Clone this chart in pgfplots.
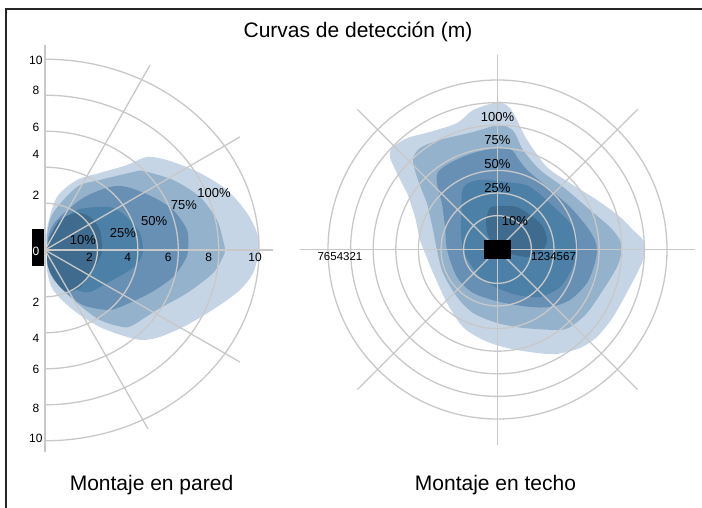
\documentclass[border=0pt]{standalone}
\usepackage{fontspec}
\setmainfont{Liberation Sans}
\usepackage{pgfplots}
\pgfplotsset{compat=1.18}

\definecolor{c100}{RGB}{198,213,229}
\definecolor{c75}{RGB}{148,178,204}
\definecolor{c50}{RGB}{104,143,180}
\definecolor{c25}{RGB}{76,128,167}
\definecolor{c10}{RGB}{62,107,142}
\definecolor{gridc}{RGB}{200,200,200}

\tikzset{
  gl/.style={draw=gridc, line width=1.3pt},
  al/.style={draw=gridc, line width=2pt},
  tk/.style={font=\fontsize{12}{14}\selectfont},
  pc/.style={font=\fontsize{13}{15}\selectfont},
}

\begin{document}
\begin{tikzpicture}[x=1pt,y=1pt]
\useasboundingbox (0,0) rectangle (702,508);
\draw[line width=1.2pt, black!85] (702,499) -- (6,499) -- (6,0);
\node[font=\fontsize{21}{24}\selectfont, anchor=base] at (358,470) {Curvas de detección (m)};
\node[font=\fontsize{21}{24}\selectfont, anchor=base] at (151.5,17) {Montaje en pared};
\node[font=\fontsize{21}{24}\selectfont, anchor=base] at (495.5,17) {Montaje en techo};

% montaje en pared
\begin{axis}[hide axis, clip=false, x=20.2pt, y=18pt,
  xmin=-1, xmax=12, ymin=-12, ymax=12,
  anchor=origin, at={(45pt,258pt)}]
\addplot[fill=c100, draw=none, smooth] coordinates {
 (0.1,0) (0.1,1.2) (0.59,2.94) (1.58,3.89) (2.72,4.28) (4.06,4.72) (4.85,5.11)
 (5.35,5.17) (6.34,4.89) (7.67,4.28) (9.01,3.33) (10.0,2.06) (10.5,0.94)
 (10.59,0) (10.3,-1.28) (9.65,-2.22) (8.51,-3.17) (7.03,-4.17) (5.69,-4.83)
 (4.85,-5.0) (4.06,-4.83) (2.72,-4.28) (1.39,-3.33) (0.4,-2.22) (0.1,-1.11) (0.1,0)};
\addplot[fill=c75, draw=none, smooth] coordinates {
 (0.1,0) (0.1,0.83) (0.4,2.06) (1.58,3.5) (2.72,3.89) (4.36,4.33) (4.85,4.39)
 (6.34,3.89) (7.67,2.94) (8.51,1.67) (8.81,0.56) (8.91,0) (8.81,-0.39)
 (8.32,-1.28) (7.03,-2.39) (5.54,-3.33) (4.36,-4.17) (3.86,-4.28) (2.72,-3.89)
 (1.58,-2.94) (0.59,-1.83) (0.15,-0.94) (0.1,0)};
\addplot[fill=c50, draw=none, smooth] coordinates {
 (0.1,0) (0.2,0.9) (0.59,1.67) (1.88,2.89) (3.22,3.5) (4.06,3.5) (5.35,2.94)
 (6.34,2.22) (7.03,1.11) (7.08,0) (6.93,-0.56) (6.34,-1.5) (5.2,-2.39)
 (3.71,-3.17) (3.07,-3.33) (1.88,-3.06) (0.89,-2.22) (0.25,-1.28) (0.1,0)};
\addplot[fill=c25, draw=none, smooth] coordinates {
 (0.1,0) (0.2,0.7) (0.64,1.39) (1.58,2.22) (2.72,2.39) (3.37,2.33) (4.06,1.83)
 (4.7,0.94) (4.85,0) (4.7,-0.56) (4.21,-1.11) (3.07,-1.83) (2.23,-2.33)
 (1.58,-2.22) (0.74,-1.67) (0.25,-0.94) (0.1,0)};
\addplot[fill=c10, draw=none, smooth] coordinates {
 (0.1,0) (0.25,0.72) (0.74,1.67) (1.58,2.06) (2.23,1.83) (2.72,1.11) (2.82,0)
 (2.72,-0.39) (2.38,-1.11) (1.73,-2.06) (1.09,-2.33) (0.59,-1.83) (0.15,-0.94) (0.1,0)};
% rejilla
\draw[gl] (axis cs:0,2.6) arc[start angle=90, end angle=-90, x radius=52.5pt, y radius=46.8pt];
\draw[gl] (axis cs:0,4.6) arc[start angle=90, end angle=-90, x radius=92.9pt, y radius=82.8pt];
\draw[gl] (axis cs:0,6.6) arc[start angle=90, end angle=-90, x radius=133.3pt, y radius=118.8pt];
\draw[gl] (axis cs:0,8.6) arc[start angle=90, end angle=-90, x radius=173.7pt, y radius=154.8pt];
\draw[gl] (axis cs:0,10.6) arc[start angle=90, end angle=-90, x radius=214.1pt, y radius=190.8pt];
\draw[gl] (axis cs:0,0) -- (axis cs:5.2,10.28);
\draw[gl] (axis cs:0,0) -- (axis cs:9.65,6.28);
\draw[gl] (axis cs:0,0) -- (axis cs:9.65,-6.22);
\draw[gl] (axis cs:0,0) -- (axis cs:5.1,-9.94);
\draw[al] (axis cs:0,0) -- (axis cs:11.29,0);
\draw[al] (axis cs:0,11.39) -- (axis cs:0,-11.22);
\fill[black] (axis cs:-0.64,1.17) rectangle (axis cs:-0.05,-0.89);
\node[tk, text=white] at (axis cs:-0.45,-0.05) {0};
\node[tk] at (axis cs:2.2,-0.4) {2};
\node[tk] at (axis cs:4.1,-0.4) {4};
\node[tk] at (axis cs:6.1,-0.4) {6};
\node[tk] at (axis cs:8.1,-0.4) {8};
\node[tk] at (axis cs:10.4,-0.4) {10};
\node[tk] at (axis cs:-0.45,10.56) {10};
\node[tk] at (axis cs:-0.45,8.89) {8};
\node[tk] at (axis cs:-0.45,6.83) {6};
\node[tk] at (axis cs:-0.45,5.33) {4};
\node[tk] at (axis cs:-0.45,3.06) {2};
\node[tk] at (axis cs:-0.45,-2.89) {2};
\node[tk] at (axis cs:-0.45,-4.89) {4};
\node[tk] at (axis cs:-0.45,-6.61) {6};
\node[tk] at (axis cs:-0.45,-8.78) {8};
\node[tk] at (axis cs:-0.45,-10.44) {10};
\node[pc] at (axis cs:1.88,0.56) {10\%};
\node[pc] at (axis cs:3.86,0.94) {25\%};
\node[pc] at (axis cs:5.40,1.61) {50\%};
\node[pc] at (axis cs:6.88,2.5) {75\%};
\node[pc] at (axis cs:8.37,3.17) {100\%};
\end{axis}

% montaje en techo
\begin{axis}[hide axis, clip=false, x=22.6pt, y=22.6pt,
  xmin=-9, xmax=9, ymin=-9, ymax=9,
  anchor=origin, at={(497.5pt,258.5pt)}]
\addplot[fill=c100, draw=none, smooth] coordinates {
 (-4.0,2.5) (-3.65,1.44) (-3.43,0.42) (-3.15,-0.3) (-2.85,-1.04) (-2.23,-2.37)
 (-1.53,-3.43) (-0.64,-4.0) (0.42,-4.36) (1.75,-4.58) (2.63,-4.62) (3.65,-4.36)
 (4.4,-3.87) (5.11,-2.99) (5.86,-1.66) (6.39,-0.6) (6.53,-0.02) (6.44,0.42)
 (6.0,0.86) (5.42,1.44) (4.4,2.19) (3.21,2.94) (2.19,3.65) (1.31,4.85)
 (0.86,5.73) (0.55,6.26) (0.24,6.48) (-0.02,6.53) (-1.08,6.17) (-1.79,5.6)
 (-2.99,5.2) (-4.0,4.93) (-4.67,4.49) (-4.76,4.09) (-4.45,3.38) (-4.0,2.5)};
\addplot[fill=c75, draw=none, smooth] coordinates {
 (-3.12,2.06) (-2.85,0.86) (-2.68,-0.02) (-2.41,-1.04) (-1.79,-2.1) (-1.08,-2.81)
 (-0.02,-3.25) (1.13,-3.47) (2.63,-3.56) (3.21,-3.43) (3.96,-2.81) (4.67,-1.79)
 (5.29,-0.77) (5.51,-0.02) (5.42,0.42) (4.98,0.99) (4.09,1.75) (2.9,2.77)
 (1.88,3.52) (1.13,4.4) (0.77,5.15) (0.46,5.42) (0.02,5.51) (-1.08,5.2)
 (-2.54,4.85) (-3.43,4.49) (-3.74,3.96) (-3.52,3.08) (-3.12,2.06)};
\addplot[fill=c50, draw=none, smooth] coordinates {
 (-2.46,2.06) (-2.32,1.0) (-2.23,-0.02) (-1.79,-1.22) (-1.08,-1.92) (0.11,-2.32)
 (1.44,-2.54) (2.32,-2.54) (3.21,-2.23) (3.96,-1.48) (4.31,-0.6) (4.4,-0.02)
 (4.31,0.42) (3.96,1.0) (3.21,1.88) (2.19,2.77) (1.31,3.52) (0.86,4.09)
 (0.64,4.4) (0.02,4.49) (-1.08,4.27) (-2.1,3.83) (-2.63,3.43) (-2.68,2.94) (-2.46,2.06)};
\addplot[fill=c25, draw=none, smooth] coordinates {
 (-1.6,1.6) (-1.62,0.86) (-1.53,-0.02) (-1.22,-0.6) (-0.77,-1.22) (-0.02,-1.7)
 (0.86,-2.01) (1.88,-2.1) (2.77,-1.66) (3.34,-0.77) (3.52,-0.02) (3.56,0.29)
 (3.34,1.0) (2.63,1.75) (1.44,2.77) (0.33,2.99) (-0.77,3.08) (-1.35,2.9)
 (-1.57,2.54) (-1.6,1.6)};
\addplot[fill=c10, draw=none, smooth] coordinates {
 (-0.51,1.31) (-0.42,0.64) (0.11,-0.02) (0.77,-0.24) (1.44,-0.33) (2.01,-0.02)
 (2.19,0.42) (2.01,1.0) (1.57,1.44) (0.86,1.88) (0.11,1.92) (-0.33,1.84) (-0.51,1.31)};
% rejilla
\draw[gl] (axis cs:0,0) circle[radius=33.9pt];
\draw[gl] (axis cs:0,0) circle[radius=56.5pt];
\draw[gl] (axis cs:0,0) circle[radius=79.1pt];
\draw[gl] (axis cs:0,0) circle[radius=101.7pt];
\draw[gl] (axis cs:0,0) circle[radius=124.3pt];
\draw[gl] (axis cs:0,0) circle[radius=146.9pt];
\draw[gl] (axis cs:0,0) circle[radius=169.5pt];
\draw[gl] (axis cs:-8.74,0) -- (axis cs:8.74,0);
\draw[gl] (axis cs:0,8.6) -- (axis cs:0,-8.65);
\draw[gl] (axis cs:-6.2,6.2) -- (axis cs:6.2,-6.2);
\draw[gl] (axis cs:6.2,6.2) -- (axis cs:-6.2,-6.2);
\fill[black] (axis cs:-0.6,0.42) rectangle (axis cs:0.6,-0.42);
\node[font=\fontsize{11.5}{13}\selectfont] at (axis cs:2.48,-0.33) {1234567};
\node[font=\fontsize{11.5}{13}\selectfont] at (axis cs:-6.97,-0.33) {7654321};
\node[pc] at (axis cs:0,5.86) {100\%};
\node[pc] at (axis cs:0,4.85) {75\%};
\node[pc] at (axis cs:0,3.78) {50\%};
\node[pc] at (axis cs:0,2.72) {25\%};
\node[pc] at (axis cs:0.77,1.26) {10\%};
\end{axis}
\end{tikzpicture}
\end{document}
